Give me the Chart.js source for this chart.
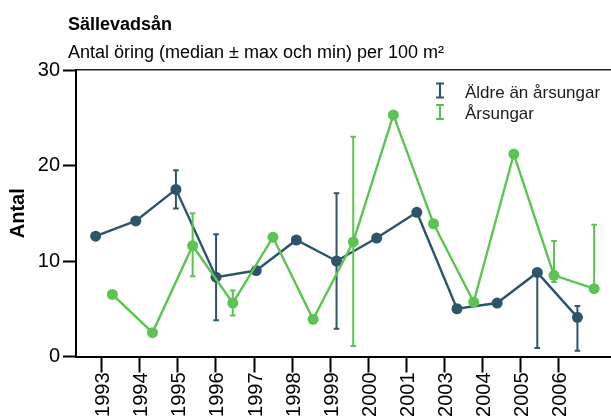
<!DOCTYPE html>
<html><head><meta charset="utf-8">
<script src="https://cdn.jsdelivr.net/npm/chart.js@4"></script>
<style>html,body{margin:0;padding:0;background:#fff}</style>
</head><body>
<canvas id="c" width="611" height="419" style="width:611px;height:419px"></canvas>
<script>
const years = ['1993','1994','1995','1996','1997','1998','1999','2000','2001','2003','2004','2005','2006'];
const aldre = [12.6,14.2,17.5,8.3,9.0,12.2,10.0,12.4,15.1,5.0,5.6,8.8,4.1];
const aldreMin = [null,null,15.5,3.8,null,null,2.9,null,null,null,null,0.9,0.6];
const aldreMax = [null,null,19.5,12.8,null,null,17.1,null,null,null,null,9.1,5.3];
const arsungar = [6.5,2.5,11.6,5.6,12.5,3.9,12.0,25.3,13.9,5.7,21.2,8.5,7.1];
const arsungarMin = [null,null,8.4,4.3,null,null,1.1,null,null,null,null,7.8,7.0];
const arsungarMax = [null,null,15.0,6.9,null,null,23.0,null,null,null,null,12.1,13.8];
const yTicks = [0,10,20,30];
const seriesNames = ['Äldre än årsungar','Årsungar'];
const titleText = 'Sällevadsån';
const subtitleText = 'Antal öring (median ± max och min) per 100 m²';

const FONT = '"Liberation Sans", Arial, Helvetica, sans-serif';
const DARK = '#2b5569';
const GREEN = '#5cc450';
const OFF = 0.208;

const errorBarPlugin = {
  id: 'errbars',
  beforeDatasetDraw(chart, args) {
    const ds = chart.data.datasets[args.index];
    const meta = args.meta;
    const ys = chart.scales.y;
    const ctx = chart.ctx;
    ctx.save();
    ctx.strokeStyle = ds.borderColor;
    ctx.lineWidth = 2;
    ds.errMin.forEach((lo, i) => {
      const hi = ds.errMax[i];
      if (lo == null || hi == null) return;
      const px = meta.data[i].x;
      const y1 = ys.getPixelForValue(lo), y2 = ys.getPixelForValue(hi);
      ctx.beginPath();
      ctx.moveTo(px, y1); ctx.lineTo(px, y2);
      ctx.moveTo(px - 2.8, y1); ctx.lineTo(px + 2.8, y1);
      ctx.moveTo(px - 2.8, y2); ctx.lineTo(px + 2.8, y2);
      ctx.stroke();
    });
    ctx.restore();
  }
};

const textPlugin = {
  id: 'texts',
  afterDraw(chart) {
    const ctx = chart.ctx;
    ctx.save();
    ctx.fillStyle = '#000';
    ctx.textAlign = 'left';
    ctx.textBaseline = 'alphabetic';
    ctx.font = 'bold 18px ' + FONT;
    ctx.fillText(titleText, 68, 30);
    ctx.font = '18px ' + FONT;
    ctx.fillText(subtitleText, 68, 58);
    const cols = [DARK, GREEN];
    const base = [97.5, 119];
    ctx.font = '17px ' + FONT;
    seriesNames.forEach((n, i) => {
      const cy = base[i] - 7;
      ctx.strokeStyle = cols[i];
      ctx.lineWidth = 2.2;
      ctx.beginPath();
      ctx.moveTo(440, cy - 7); ctx.lineTo(440, cy + 7);
      ctx.moveTo(436, cy - 7); ctx.lineTo(444, cy - 7);
      ctx.moveTo(436, cy + 7); ctx.lineTo(444, cy + 7);
      ctx.stroke();
      ctx.fillStyle = '#1a1a1a';
      ctx.fillText(n, 465, base[i]);
    });
    ctx.restore();
  }
};

new Chart(document.getElementById('c'), {
  type: 'line',
  data: {
    datasets: [
      {
        label: seriesNames[1],
        data: arsungar.map((v, i) => ({x: i + OFF, y: v})),
        errMin: arsungarMin, errMax: arsungarMax,
        borderColor: GREEN, backgroundColor: GREEN,
        borderWidth: 2.4, pointRadius: 5.5, pointBorderWidth: 0,
        pointBackgroundColor: GREEN, tension: 0, order: 0
      },
      {
        label: seriesNames[0],
        data: aldre.map((v, i) => ({x: i - OFF, y: v})),
        errMin: aldreMin, errMax: aldreMax,
        borderColor: DARK, backgroundColor: DARK,
        borderWidth: 2.4, pointRadius: 5.5, pointBorderWidth: 0,
        pointBackgroundColor: DARK, tension: 0, order: 1
      }
    ]
  },
  options: {
    responsive: false,
    animation: false,
    events: [],
    layout: { autoPadding: false, padding: { top: 70, left: 0, right: 0, bottom: 0 } },
    plugins: { legend: { display: false }, tooltip: { enabled: false }, title: { display: false } },
    scales: {
      x: { type: 'linear', min: -0.697, max: 12.628, display: false },
      xt: {
        type: 'linear', position: 'bottom', min: -0.672, max: 13.367,
        afterBuildTicks: s => { s.ticks = years.map((_, i) => ({ value: i })); },
        afterFit: s => { s.height = 62.5; s.paddingLeft = 0; s.paddingRight = 0; },
        ticks: {
          callback: v => years[v], autoSkip: false, maxRotation: 90, minRotation: 90,
          padding: 0, labelOffset: 2, color: '#000', font: { size: 20, family: FONT }
        },
        grid: { display: true, drawOnChartArea: false, drawTicks: true, tickLength: 16, tickWidth: 2, tickColor: '#000' },
        border: { display: true, color: '#000', width: 2 }
      },
      xtop: {
        type: 'linear', position: 'top', min: 0, max: 1,
        ticks: { display: false }, grid: { display: false, drawTicks: false },
        border: { display: true, color: '#222', width: 1.5 },
        afterFit: s => { s.height = 0; s.paddingLeft = 0; s.paddingRight = 0; }
      },
      y: {
        type: 'linear', position: 'left', min: 0, max: 30,
        afterBuildTicks: s => { s.ticks = yTicks.map(v => ({ value: v })); },
        afterFit: s => { s.width = 76; s.paddingTop = 0; s.paddingBottom = 0; },
        ticks: { padding: 3, color: '#000', font: { size: 20, family: FONT } },
        grid: { display: true, drawOnChartArea: false, drawTicks: true, tickLength: 13, tickWidth: 2, tickColor: '#000' },
        border: { display: true, color: '#000', width: 2 },
        title: { display: true, text: 'Antal', color: '#000', font: { size: 20, weight: 'bold', family: FONT }, padding: { top: 6, bottom: 0 } }
      }
    }
  },
  plugins: [errorBarPlugin, textPlugin]
});
</script>
</body></html>
